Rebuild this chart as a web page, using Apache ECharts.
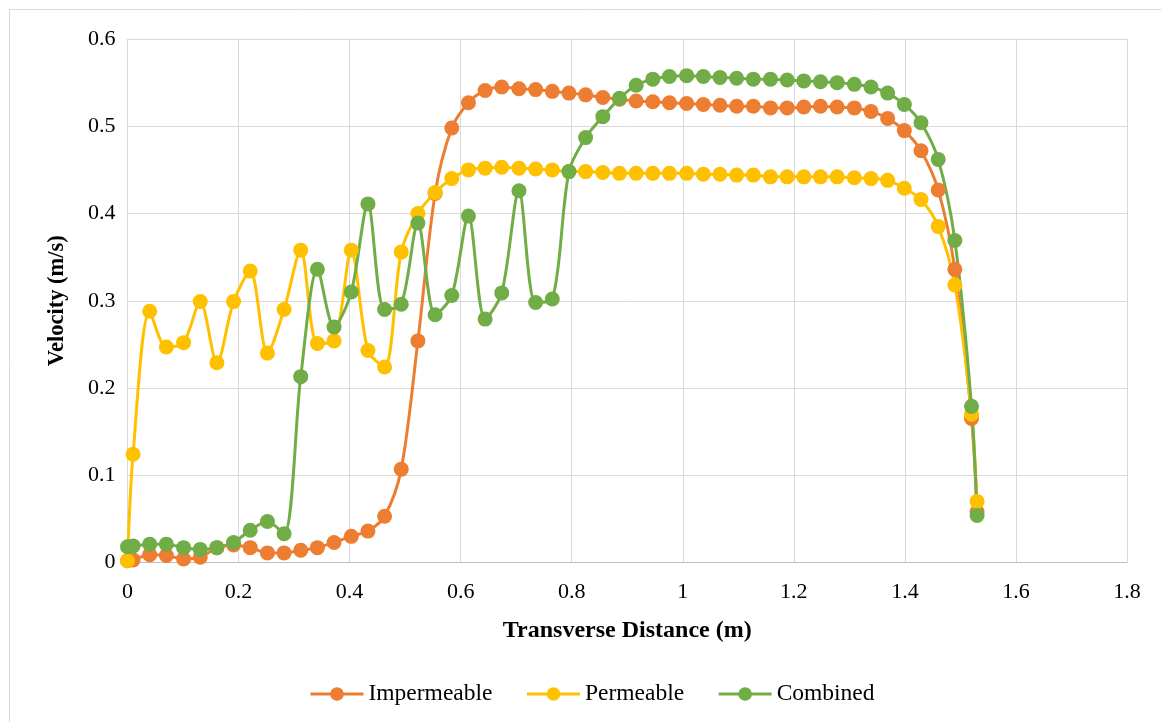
<!DOCTYPE html>
<html>
<head>
<meta charset="utf-8">
<script src="https://cdn.jsdelivr.net/npm/echarts@6/dist/echarts.min.js"></script>
<style>
html,body{margin:0;padding:0;background:#fff;}
#chart{width:1161px;height:722px;}
</style>
</head>
<body>
<div id="chart"></div>
<script>
// Transverse distance (m)
const distance = [0, 0.010, 0.040, 0.070, 0.101, 0.131, 0.161, 0.191, 0.221, 0.252, 0.282, 0.312, 0.342, 0.372, 0.403, 0.433, 0.463, 0.493, 0.523, 0.554, 0.584, 0.614, 0.644, 0.674, 0.705, 0.735, 0.765, 0.795, 0.825, 0.856, 0.886, 0.916, 0.946, 0.976, 1.007, 1.037, 1.067, 1.097, 1.127, 1.158, 1.188, 1.218, 1.248, 1.278, 1.309, 1.339, 1.369, 1.399, 1.429, 1.460, 1.490, 1.520, 1.530];

const impermeable = [0.002, 0.003, 0.009, 0.008, 0.004, 0.006, 0.017, 0.020, 0.017, 0.011, 0.011, 0.014, 0.017, 0.023, 0.030, 0.036, 0.053, 0.107, 0.254, 0.423, 0.498, 0.527, 0.541, 0.545, 0.543, 0.542, 0.540, 0.538, 0.536, 0.533, 0.531, 0.529, 0.528, 0.527, 0.526, 0.525, 0.524, 0.523, 0.523, 0.521, 0.521, 0.522, 0.523, 0.522, 0.521, 0.517, 0.509, 0.495, 0.472, 0.427, 0.336, 0.165, 0.058];

const permeable = [0.002, 0.124, 0.288, 0.247, 0.252, 0.299, 0.229, 0.299, 0.334, 0.240, 0.290, 0.358, 0.251, 0.254, 0.358, 0.243, 0.224, 0.356, 0.400, 0.424, 0.440, 0.450, 0.452, 0.453, 0.452, 0.451, 0.450, 0.448, 0.448, 0.447, 0.446, 0.446, 0.446, 0.446, 0.446, 0.445, 0.445, 0.444, 0.444, 0.442, 0.442, 0.442, 0.442, 0.442, 0.441, 0.440, 0.438, 0.429, 0.416, 0.385, 0.318, 0.170, 0.070];

const combined = [0.018, 0.019, 0.021, 0.021, 0.017, 0.015, 0.017, 0.023, 0.037, 0.047, 0.033, 0.213, 0.336, 0.270, 0.310, 0.411, 0.290, 0.296, 0.389, 0.284, 0.306, 0.397, 0.279, 0.309, 0.426, 0.298, 0.302, 0.448, 0.487, 0.511, 0.532, 0.547, 0.554, 0.557, 0.558, 0.557, 0.556, 0.555, 0.554, 0.554, 0.553, 0.552, 0.551, 0.550, 0.548, 0.545, 0.538, 0.525, 0.504, 0.462, 0.369, 0.179, 0.054];

const seriesNames = ['Impermeable', 'Permeable', 'Combined'];
const seriesColors = ['#ED7D31', '#FFC000', '#70AD47'];
const seriesValues = [impermeable, permeable, combined];

const xTitle = 'Transverse Distance (m)';
const yTitle = 'Velocity (m/s)';

const FONT = '"Liberation Serif", "Times New Roman", serif';

const chart = echarts.init(document.getElementById('chart'));

const series = seriesNames.map((name, i) => ({
  name: name,
  type: 'line',
  data: distance.map((x, j) => [x, seriesValues[i][j]]),
  smooth: 0.3,
  symbol: 'circle',
  symbolSize: 15,
  showSymbol: true,
  lineStyle: { color: seriesColors[i], width: 3 },
  itemStyle: { color: seriesColors[i] },
  emphasis: { disabled: true },
  animation: false
}));

chart.setOption({
  backgroundColor: '#ffffff',
  animation: false,
  graphic: [{
    type: 'rect',
    shape: { x: 9.5, y: 9.5, width: 1300, height: 900 },
    style: { fill: 'none', stroke: '#D9D9D9', lineWidth: 1 },
    silent: true,
    z: -1
  }],
  grid: { left: 127.5, right: 34, top: 39, bottom: 159.5 },
  legend: {
    data: seriesNames,
    bottom: 11,
    left: 304,
    itemWidth: 53,
    itemHeight: 17,
    itemGap: 33,
    lineStyle: { width: 3 },
    textStyle: { fontFamily: FONT, fontSize: 23.5, color: '#000' }
  },
  xAxis: {
    type: 'value',
    min: 0, max: 1.8, interval: 0.2,
    name: xTitle,
    nameLocation: 'middle',
    nameGap: 56,
    nameTextStyle: { fontFamily: FONT, fontSize: 24, fontWeight: 'bold', color: '#000' },
    axisLine: { show: true, lineStyle: { color: '#BFBFBF', width: 1 } },
    axisTick: { show: false },
    axisLabel: { fontFamily: FONT, fontSize: 22, color: '#000', margin: 19 },
    splitLine: { show: true, lineStyle: { color: '#D9D9D9', width: 1 } }
  },
  yAxis: {
    type: 'value',
    min: 0, max: 0.6, interval: 0.1,
    name: yTitle,
    nameLocation: 'middle',
    nameGap: 59,
    nameTextStyle: { fontFamily: FONT, fontSize: 22.5, fontWeight: 'bold', color: '#000' },
    axisLine: { show: false },
    axisTick: { show: false },
    axisLabel: { fontFamily: FONT, fontSize: 22, color: '#000', margin: 12 },
    splitLine: { show: true, lineStyle: { color: '#D9D9D9', width: 1 } }
  },
  series: series
});
</script>
</body>
</html>
